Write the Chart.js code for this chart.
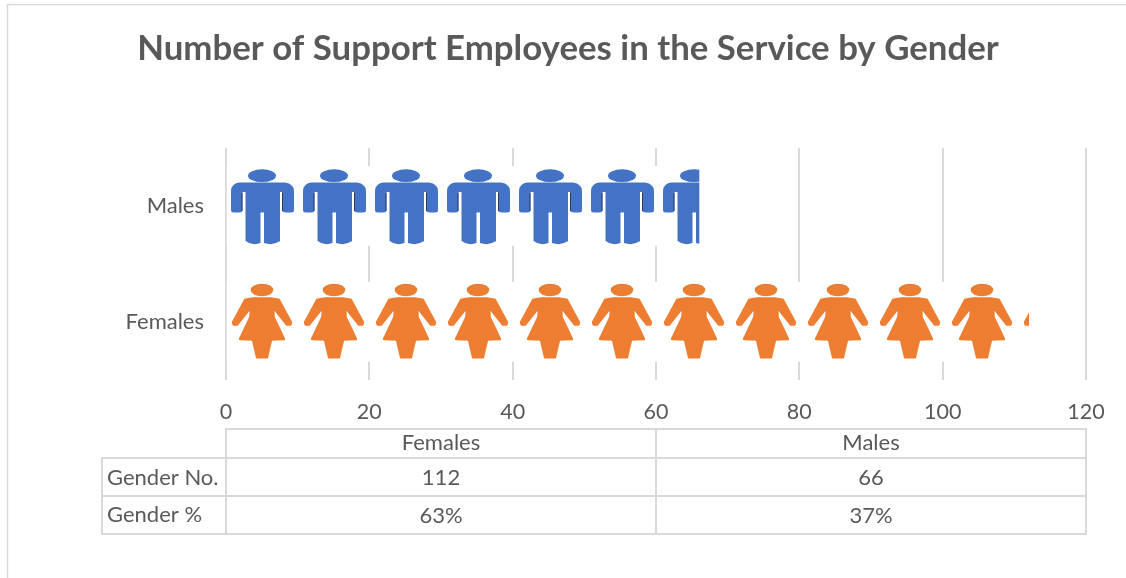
<!DOCTYPE html>
<html><head><meta charset="utf-8">
<style>html,body{margin:0;padding:0;background:#fff;overflow:hidden}canvas{display:block}</style>
<script src="https://cdn.jsdelivr.net/npm/chart.js@4"></script>
</head><body>
<canvas id="c" width="1126" height="578"></canvas>
<script>
const titleText = 'Number of Support Employees in the Service by Gender';
const categories = ['Males', 'Females'];
const employeeCounts = [66, 112];
const tableHeaders = ['Females', 'Males'];
const tableRowLabels = ['Gender No.', 'Gender %'];
const genderNumbers = ['112', '66'];
const genderPercents = ['63%', '37%'];
const BLUE = '#4472C4', ORANGE = '#ED7D31', GRID = '#D9D9D9', TEXT = '#595959', FONT = 'Lato';

function tile() {
  const t = document.createElement('canvas');
  t.width = 72; t.height = 79;
  const g = t.getContext('2d');
  g.fillStyle = '#fff'; g.fillRect(0, 0, 72, 79);
  return [t, g];
}
function maleTile() {
  const [t, g] = tile();
  g.fillStyle = BLUE;
  g.beginPath(); g.ellipse(36, 9.7, 14, 6.4, 0, 0, 7); g.fill();
  g.beginPath();
  g.moveTo(13, 16.5); g.lineTo(59, 16.5);
  g.quadraticCurveTo(68, 18, 68, 25);
  g.lineTo(68, 44); g.quadraticCurveTo(68, 46.5, 65, 46.5);
  g.lineTo(60, 46.5); g.quadraticCurveTo(56, 46.5, 56, 44);
  g.lineTo(56, 26); g.lineTo(54, 26); g.lineTo(54, 75);
  g.quadraticCurveTo(47, 80, 38, 77);
  g.lineTo(38, 46.5); g.lineTo(34.5, 46.5); g.lineTo(34.5, 77);
  g.quadraticCurveTo(26, 80, 19.5, 75);
  g.lineTo(19.5, 26); g.lineTo(16.5, 26); g.lineTo(16.5, 44);
  g.quadraticCurveTo(16.5, 46.5, 13, 46.5);
  g.lineTo(8, 46.5); g.quadraticCurveTo(5, 46.5, 5, 44);
  g.lineTo(5, 25); g.quadraticCurveTo(5, 18, 13, 16.5);
  g.closePath(); g.fill();
  g.strokeStyle = 'rgba(30,40,70,0.75)'; g.lineWidth = 1;
  g.beginPath(); g.moveTo(16, 27); g.lineTo(16, 45); g.moveTo(56.5, 27); g.lineTo(56.5, 45); g.stroke();
  return t;
}
function femaleTile() {
  const [t, g] = tile();
  const P = (x, y) => [x / 3 - 6, y / 3 - 133];
  const left = [[100,448],[76,452],[39,520],[41,527],[51,527],[93,474],[91,505],[60,570],[99,572],[111,625]];
  const pts = left.map(p => P(p[0], p[1]));
  const mirrored = left.slice().reverse().map(p => P(252 - p[0], p[1]));
  g.fillStyle = ORANGE; g.strokeStyle = ORANGE; g.lineWidth = 2.4; g.lineJoin = 'round';
  g.beginPath(); g.ellipse(36, 8, 11.3, 6.2, 0, 0, 7); g.fill();
  g.beginPath();
  pts.concat(mirrored).forEach((p, i) => i ? g.lineTo(p[0], p[1]) : g.moveTo(p[0], p[1]));
  g.closePath(); g.fill(); g.stroke();
  return t;
}
const ctx = document.getElementById('c').getContext('2d');
const patterns = [ctx.createPattern(maleTile(), 'repeat'), ctx.createPattern(femaleTile(), 'repeat')];

const alignPatterns = {
  id: 'alignPatterns',
  beforeDatasetsDraw(chart) {
    const x0 = chart.scales.x.getPixelForValue(0);
    chart.getDatasetMeta(0).data.forEach((bar, i) => {
      patterns[i].setTransform(new DOMMatrix().translate(x0, Math.round(bar.y - 39.5)));
    });
  }
};
const frameAndTable = {
  id: 'frameAndTable',
  beforeDraw(chart) {
    const c = chart.ctx;
    c.save();
    c.strokeStyle = GRID; c.lineWidth = 1.5;
    c.beginPath(); c.moveTo(7.5, 578); c.lineTo(7.5, 4.5); c.lineTo(1126, 4.5); c.stroke();
    c.restore();
  },
  afterDraw(chart) {
    const c = chart.ctx, xs = chart.scales.x;
    const x0 = xs.getPixelForValue(0), x2 = xs.getPixelForValue(120), x1 = (x0 + x2) / 2;
    const left = 102, ys = [429, 458, 496, 534];
    c.save();
    c.strokeStyle = GRID; c.lineWidth = 2;
    c.beginPath();
    c.moveTo(x0, ys[0]); c.lineTo(x2, ys[0]);
    c.moveTo(left, ys[1]); c.lineTo(x2, ys[1]);
    c.moveTo(left, ys[2]); c.lineTo(x2, ys[2]);
    c.moveTo(left, ys[3]); c.lineTo(x2, ys[3]);
    c.moveTo(left, ys[1] - 1); c.lineTo(left, ys[3] + 1);
    c.moveTo(x0, ys[0] - 1); c.lineTo(x0, ys[3] + 1);
    c.moveTo(x1, ys[0] - 1); c.lineTo(x1, ys[3] + 1);
    c.moveTo(x2, ys[0] - 1); c.lineTo(x2, ys[3] + 1);
    c.stroke();
    c.fillStyle = TEXT; c.font = '22px ' + FONT; c.textBaseline = 'middle';
    c.textAlign = 'left';
    c.fillText(tableRowLabels[0], 107, 478);
    c.fillText(tableRowLabels[1], 107, 515);
    c.textAlign = 'center';
    const cx = [(x0 + x1) / 2, (x1 + x2) / 2];
    [0, 1].forEach(i => {
      c.fillText(tableHeaders[i], cx[i], 443);
      c.fillText(genderNumbers[i], cx[i], 478);
      c.fillText(genderPercents[i], cx[i], 516);
    });
    c.restore();
  }
};

new Chart(ctx, {
  type: 'bar',
  data: { labels: categories, datasets: [{ data: employeeCounts, backgroundColor: patterns, barThickness: 79, borderWidth: 0 }] },
  options: {
    indexAxis: 'y', responsive: false, animation: false, events: [],
    layout: { padding: { left: 50, right: 40, top: 0, bottom: 0 } },
    plugins: {
      legend: { display: false }, tooltip: { enabled: false },
      title: { display: true, text: titleText, color: TEXT, align: 'center',
        font: { family: FONT, size: 34.8, weight: 'bold', lineHeight: 1.2 },
        padding: { top: 28, bottom: 78 } }
    },
    scales: {
      x: { min: 0, max: 120, position: 'bottom',
        ticks: { stepSize: 20, color: TEXT, font: { family: FONT, size: 21.5 }, padding: 19, maxRotation: 0 },
        grid: { color: GRID, lineWidth: 2, drawTicks: false }, border: { display: false },
        afterFit(s) { s.height = 198; } },
      y: { ticks: { color: TEXT, font: { family: FONT, size: 22 }, padding: 22 },
        grid: { display: false, drawTicks: false }, border: { display: false },
        afterFit(s) { s.width = 176; } }
    }
  },
  plugins: [alignPatterns, frameAndTable]
});
</script>
</body></html>
